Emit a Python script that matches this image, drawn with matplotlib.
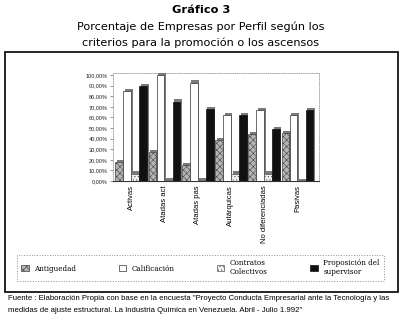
import numpy as np
import matplotlib
matplotlib.use("Agg")
import matplotlib.pyplot as plt
from matplotlib.patches import Rectangle

# ---- data ----
categories = ["Activas", "Atadas act", "Atadas pas", "Autárquicas",
              "No diferenciadas", "Pasivas"]
series_names = ["Antiguedad", "Calificación", "Contratos\nColectivos",
                "Proposición del\nsupervisor"]
antiguedad = [18, 27, 15, 39, 44, 45]
calificacion = [85, 100, 93, 62, 67, 62]
contratos = [7, 1, 1, 7, 7, 0]
proposicion = [90, 75, 68, 62, 49, 67]
yticks = list(range(0, 101, 10))
ytick_labels = [f"{v:.2f}%".replace(".", ",") for v in yticks]

title1 = "Gráfico 3"
title2 = "Porcentaje de Empresas por Perfil según los"
title3 = "criterios para la promoción o los ascensos"
foot1 = ("Fuente : Elaboración Propia con base en la encuesta \"Proyecto Conducta "
         "Empresarial ante la Tecnología y las")
foot2 = ("medidas de ajuste estructural. La Industria Química en Venezuela. "
         "Abril - Julio 1.992\"")

W, H = 402, 329
fig = plt.figure(figsize=(W / 100, H / 100), dpi=100)

ax = fig.add_axes([113 / W, 1 - 181 / H, (319 - 113) / W, 108 / H])

x = np.arange(len(categories))
offsets = [-0.36, -0.12, 0.12, 0.36]
width = 0.23
styles = [
    dict(facecolor="#b4b4b4", edgecolor="#444444", hatch="xxxxx"),
    dict(facecolor="white", edgecolor="#333333", hatch=None),
    dict(facecolor="#f2f2f2", edgecolor="#555555", hatch="....."),
    dict(facecolor="#111111", edgecolor="#111111", hatch=None),
]
plt.rcParams["hatch.linewidth"] = 0.4
all_vals = [antiguedad, calificacion, contratos, proposicion]
handles = []
for i, (vals, st) in enumerate(zip(all_vals, styles)):
    vals = np.array(vals, dtype=float)
    # pseudo 3D side/top
    ax.bar(x + offsets[i] + 0.045, vals + 2, width, color="#7a7a7a",
           linewidth=0, zorder=2 + 2 * i)
    b = ax.bar(x + offsets[i], vals, width, linewidth=0.5,
               zorder=3 + 2 * i, **st)
    handles.append(b)

ax.set_xlim(-0.55, 5.65)
ax.set_ylim(0, 102)
ax.set_yticks(yticks)
ax.set_yticklabels(ytick_labels, fontsize=4, family="Liberation Sans",
                   color="#222222")
ax.tick_params(axis="y", length=2, width=0.5, color="#666666", pad=2)
ax.set_xticks(x)
ax.set_xticklabels(categories, rotation=90, fontsize=5.5,
                   family="Liberation Sans", va="top", ha="center")
ax.tick_params(axis="x", length=0, pad=3)
for s in ["top", "right", "left"]:
    ax.spines[s].set_linestyle(":")
    ax.spines[s].set_color("#999999")
    ax.spines[s].set_linewidth(0.6)
ax.spines["bottom"].set_color("#333333")
ax.spines["bottom"].set_linewidth(0.8)

# legend
leg = fig.legend(handles=handles, labels=series_names, ncol=4,
                 loc="upper left",
                 bbox_to_anchor=(17 / W, 1 - 258 / H, 367 / W, 0.01),
                 mode="expand", frameon=True, fancybox=False,
                 prop=dict(family="DejaVu Serif", size=5.2),
                 handlelength=1.0, handleheight=1.0, handletextpad=0.8,
                 borderpad=0.6, borderaxespad=0)
leg.get_frame().set_edgecolor("#777777")
leg.get_frame().set_linestyle(":")
leg.get_frame().set_linewidth(0.7)

# outer frame
fig.add_artist(Rectangle((5 / W, 1 - 292 / H), 393 / W, 240 / H,
                         transform=fig.transFigure, fill=False,
                         lw=1.2, ec="black"))

fig.text(0.5, 1 - 10 / H, title1, ha="center", va="center",
         fontsize=8.2, weight="bold", family="DejaVu Sans")
fig.text(0.5, 1 - 27 / H, title2, ha="center", va="center",
         fontsize=8.1, family="DejaVu Sans")
fig.text(0.5, 1 - 43 / H, title3, ha="center", va="center",
         fontsize=8.1, family="DejaVu Sans")

fig.text(8 / W, 1 - 298 / H, foot1, ha="left", va="center",
         fontsize=5.6, family="Liberation Sans")
fig.text(8 / W, 1 - 310 / H, foot2, ha="left", va="center",
         fontsize=5.6, family="Liberation Sans")

fig.savefig("out.png", dpi=100)
